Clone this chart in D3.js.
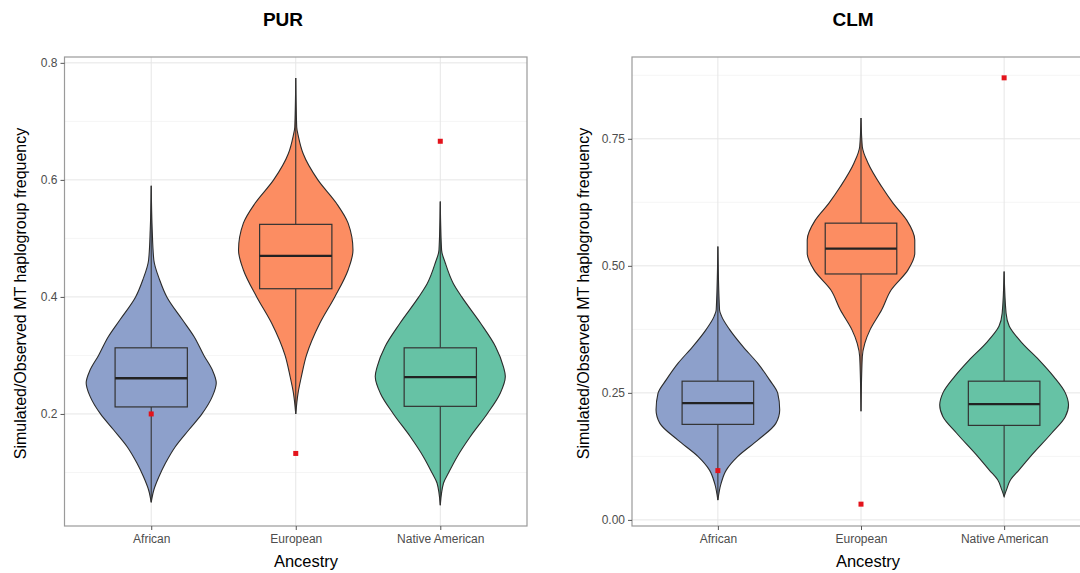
<!DOCTYPE html>
<html>
<head>
<meta charset="utf-8">
<script src="https://cdn.jsdelivr.net/npm/d3@7"></script>
<style>
  html, body { margin: 0; padding: 0; background: #fff; }
  body { width: 1080px; height: 573px; overflow: hidden; }
  text { font-family: "Liberation Sans", Arial, sans-serif; }
</style>
</head>
<body>
<script>
const width = 1080;
const height = 573;

const categories = ["African", "European", "Native American"];
const fills = ["#8DA0CB", "#FC8D62", "#66C2A5"];

// PUR panel
const purTicks = [0.2, 0.4, 0.6, 0.8];
const purMinor = [0.1, 0.3, 0.5, 0.7];
const purMin = [0.049, 0.200, 0.044];
const purQ1 = [0.212, 0.414, 0.213];
const purMedian = [0.261, 0.470, 0.263];
const purQ3 = [0.313, 0.524, 0.313];
const purMax = [0.590, 0.774, 0.563];
const purObserved = [0.200, 0.1325, 0.666];
// violin half-widths, relative to the widest violin
const purDensity = [
  [[0.049, 0], [0.07, 0.04], [0.093, 0.12], [0.116, 0.22], [0.144, 0.37], [0.173, 0.58],
   [0.2, 0.78], [0.23, 0.94], [0.253, 1.0], [0.275, 0.94], [0.3, 0.81], [0.332, 0.66],
   [0.361, 0.48], [0.4, 0.24], [0.429, 0.13], [0.463, 0.04], [0.515, 0.015], [0.59, 0]],
  [[0.2, 0], [0.236, 0.036], [0.264, 0.087], [0.3, 0.164], [0.355, 0.37], [0.4, 0.6],
   [0.446, 0.805], [0.48, 0.88], [0.526, 0.805], [0.56, 0.626], [0.6, 0.34], [0.645, 0.113],
   [0.674, 0.041], [0.69, 0.015], [0.774, 0]],
  [[0.044, 0], [0.082, 0.05], [0.1, 0.13], [0.127, 0.26], [0.161, 0.46], [0.2, 0.72],
   [0.235, 0.92], [0.264, 1.0], [0.281, 0.97], [0.315, 0.85], [0.355, 0.62], [0.4, 0.33],
   [0.423, 0.2], [0.458, 0.077], [0.48, 0.02], [0.563, 0]]
];

// CLM panel
const clmTicks = [0, 0.25, 0.5, 0.75];
const clmMinor = [0.125, 0.375, 0.625, 0.875];
const clmMin = [0.039, 0.214, 0.046];
const clmQ1 = [0.188, 0.484, 0.186];
const clmMedian = [0.230, 0.534, 0.228];
const clmQ3 = [0.273, 0.584, 0.273];
const clmMax = [0.538, 0.791, 0.489];
const clmObserved = [0.097, 0.031, 0.870];
const clmDensity = [
  [[0.039, 0], [0.072, 0.05], [0.098, 0.13], [0.125, 0.31], [0.157, 0.62], [0.19, 0.9],
   [0.217, 0.96], [0.249, 0.93], [0.276, 0.8], [0.308, 0.62], [0.341, 0.39], [0.375, 0.18],
   [0.4, 0.06], [0.413, 0.026], [0.538, 0]],
  [[0.214, 0], [0.321, 0.02], [0.348, 0.06], [0.374, 0.14], [0.413, 0.32], [0.453, 0.47],
   [0.492, 0.73], [0.525, 0.835], [0.551, 0.835], [0.59, 0.71], [0.623, 0.5], [0.656, 0.32],
   [0.702, 0.11], [0.735, 0.02], [0.791, 0]],
  [[0.046, 0], [0.059, 0.036], [0.079, 0.1], [0.098, 0.23], [0.125, 0.41], [0.171, 0.74],
   [0.203, 0.95], [0.226, 1.0], [0.25, 0.95], [0.282, 0.77], [0.315, 0.54], [0.348, 0.28],
   [0.381, 0.08], [0.407, 0.03], [0.489, 0]]
];

const svg = d3.select("body").append("svg")
  .attr("width", width)
  .attr("height", height);

function drawPanel(p) {
  const top = 57, bottom = 526;
  const x = d3.scalePoint().domain(categories).range([p.left, p.right]).padding(0.6);
  const step = x.step();
  const y = d3.scaleLinear().domain(p.domain).range([bottom, top]);
  const g = svg.append("g");

  // grid
  g.selectAll(".minor").data(p.minor).join("line")
    .attr("x1", p.left).attr("x2", p.right)
    .attr("y1", d => y(d)).attr("y2", d => y(d))
    .attr("stroke", "#f2f2f2").attr("stroke-width", 0.8);
  g.selectAll(".major").data(p.ticks).join("line")
    .attr("x1", p.left).attr("x2", p.right)
    .attr("y1", d => y(d)).attr("y2", d => y(d))
    .attr("stroke", "#e6e6e6").attr("stroke-width", 1);
  g.selectAll(".vmajor").data(categories).join("line")
    .attr("x1", d => x(d)).attr("x2", d => x(d))
    .attr("y1", top).attr("y2", bottom)
    .attr("stroke", "#e6e6e6").attr("stroke-width", 1);

  const maxHalf = 0.45 * step;
  const area = d3.area()
    .curve(d3.curveMonotoneY)
    .y(d => y(d[0]));

  categories.forEach((c, i) => {
    const cx = x(c);
    g.append("path")
      .datum(p.density[i])
      .attr("d", area.x0(d => cx - d[1] * maxHalf).x1(d => cx + d[1] * maxHalf))
      .attr("fill", fills[i])
      .attr("stroke", "#2b2b2b")
      .attr("stroke-width", 1.1);

    const bw = 0.25 * step;
    // whiskers
    g.append("line").attr("x1", cx).attr("x2", cx)
      .attr("y1", y(p.q3[i])).attr("y2", y(p.max[i]))
      .attr("stroke", "#333").attr("stroke-width", 1.1);
    g.append("line").attr("x1", cx).attr("x2", cx)
      .attr("y1", y(p.q1[i])).attr("y2", y(p.min[i]))
      .attr("stroke", "#333").attr("stroke-width", 1.1);
    g.append("rect")
      .attr("x", cx - bw).attr("width", 2 * bw)
      .attr("y", y(p.q3[i])).attr("height", y(p.q1[i]) - y(p.q3[i]))
      .attr("fill", fills[i])
      .attr("stroke", "#333").attr("stroke-width", 1.2);
    g.append("line").attr("x1", cx - bw).attr("x2", cx + bw)
      .attr("y1", y(p.median[i])).attr("y2", y(p.median[i]))
      .attr("stroke", "#222").attr("stroke-width", 2.3);

    // observed value
    g.append("rect")
      .attr("x", cx - 2.5).attr("y", y(p.observed[i]) - 2.5)
      .attr("width", 5).attr("height", 5)
      .attr("fill", "#E3131B");
  });

  // panel border
  g.append("rect")
    .attr("x", p.left).attr("y", top)
    .attr("width", p.right - p.left).attr("height", bottom - top)
    .attr("fill", "none").attr("stroke", "#9a9a9a").attr("stroke-width", 1.2);

  // axes
  const yAxis = d3.axisLeft(y).tickValues(p.ticks).tickFormat(d3.format(p.fmt))
    .tickSize(4).tickPadding(3);
  const ya = g.append("g").attr("transform", `translate(${p.left},0)`).call(yAxis);
  ya.select(".domain").remove();
  ya.selectAll("line").attr("stroke", "#555");
  ya.selectAll("text").attr("fill", "#4d4d4d").style("font-size", "12px");

  const xAxis = d3.axisBottom(x).tickSize(4).tickPadding(4);
  const xa = g.append("g").attr("transform", `translate(0,${bottom})`).call(xAxis);
  xa.select(".domain").remove();
  xa.selectAll("line").attr("stroke", "#555");
  xa.selectAll("text").attr("fill", "#4d4d4d").style("font-size", "12px");

  // titles
  g.append("text").attr("x", p.titleX).attr("y", 26)
    .attr("text-anchor", "middle").style("font-size", "19px").style("font-weight", "bold")
    .text(p.title);
  g.append("text").attr("x", p.xTitleX).attr("y", 567)
    .attr("text-anchor", "middle").style("font-size", "16.5px")
    .text("Ancestry");
  g.append("text")
    .attr("transform", `translate(${p.yTitleX},${(top + bottom) / 2 + 2}) rotate(-90)`)
    .attr("text-anchor", "middle").style("font-size", "16px")
    .text("Simulated/Observed MT haplogroup frequency");
}

drawPanel({
  title: "PUR", titleX: 283, xTitleX: 306, yTitleX: 26,
  left: 64.5, right: 527, domain: [0.0085, 0.810], fmt: ".1f",
  ticks: purTicks, minor: purMinor,
  min: purMin, q1: purQ1, median: purMedian, q3: purQ3, max: purMax,
  observed: purObserved, density: purDensity
});

drawPanel({
  title: "CLM", titleX: 853, xTitleX: 868, yTitleX: 589,
  left: 632, right: 1090, domain: [-0.012, 0.911], fmt: ".2f",
  ticks: clmTicks, minor: clmMinor,
  min: clmMin, q1: clmQ1, median: clmMedian, q3: clmQ3, max: clmMax,
  observed: clmObserved, density: clmDensity
});
</script>
</body>
</html>
